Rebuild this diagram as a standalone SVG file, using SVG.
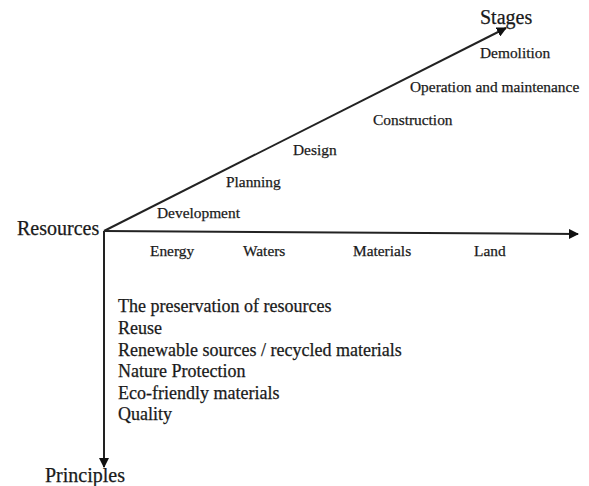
<svg xmlns="http://www.w3.org/2000/svg" width="589" height="486" viewBox="0 0 589 486">
<defs>
<marker id="ah" viewBox="0 0 10 10" refX="9" refY="5" markerWidth="10" markerHeight="10" markerUnits="userSpaceOnUse" orient="auto">
<path d="M0,0 L10,5 L0,10 z" fill="#111"/>
</marker>
</defs>
<style>
text{font-family:"Liberation Serif","Times New Roman",serif;fill:#1a1a1a;stroke:#1a1a1a;stroke-width:0.25}
.ax{font-size:20px}
.st{font-size:15.4px}
.pr{font-size:18px}
line{stroke:#222;stroke-width:2;fill:none}
</style>
<rect width="589" height="486" fill="#fff"/>
<g id="connectors">
<line x1="104" y1="231" x2="506" y2="28" marker-end="url(#ah)"/>
<line x1="104" y1="231" x2="578" y2="234" marker-end="url(#ah)"/>
<line x1="104" y1="231" x2="104" y2="467" marker-end="url(#ah)"/>
</g>
<g id="resources"><text class="ax" x="17" y="235">Resources</text></g>
<g id="stages"><text class="ax" x="480" y="24">Stages</text></g>
<g id="principles"><text class="ax" x="45" y="482">Principles</text></g>
<g id="stage-labels">
<text class="st" x="480" y="58">Demolition</text>
<text class="st" x="410" y="92">Operation and maintenance</text>
<text class="st" x="373" y="125">Construction</text>
<text class="st" x="293" y="155">Design</text>
<text class="st" x="226" y="187">Planning</text>
<text class="st" x="157" y="218">Development</text>
</g>
<g id="resource-labels">
<text class="st" x="150" y="256">Energy</text>
<text class="st" x="243" y="256">Waters</text>
<text class="st" x="353" y="256">Materials</text>
<text class="st" x="474" y="256">Land</text>
</g>
<g id="principle-labels">
<text class="pr" x="118" y="312">The preservation of resources</text>
<text class="pr" x="118" y="334">Reuse</text>
<text class="pr" x="118" y="356">Renewable sources / recycled materials</text>
<text class="pr" x="118" y="377">Nature Protection</text>
<text class="pr" x="118" y="399">Eco-friendly materials</text>
<text class="pr" x="118" y="420">Quality</text>
</g>
</svg>
